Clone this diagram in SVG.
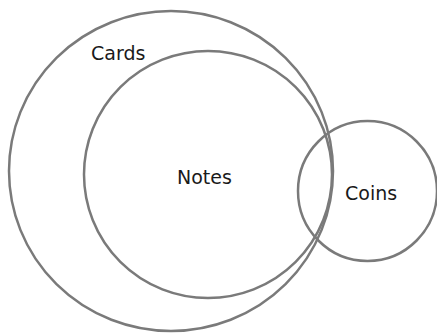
<svg xmlns="http://www.w3.org/2000/svg" width="437" height="334" viewBox="0 0 437 334">
<style>
.c{fill:none;stroke:#7a7a7a;stroke-width:2.5}
.t{font-family:"DejaVu Sans",sans-serif;font-size:19px;fill:#1a1a1a}
</style>
<rect width="437" height="334" fill="#fff"/>
<g id="cards"><ellipse class="c" cx="171" cy="171" rx="162" ry="160"/><text class="t" x="91" y="60">Cards</text></g>
<g id="notes"><ellipse class="c" cx="208" cy="174.5" rx="124" ry="123.5"/><text class="t" x="177" y="184">Notes</text></g>
<g id="coins"><ellipse class="c" cx="367.5" cy="191" rx="69.5" ry="70"/><text class="t" x="345" y="200">Coins</text></g>
<g id="connectors"/>
</svg>
